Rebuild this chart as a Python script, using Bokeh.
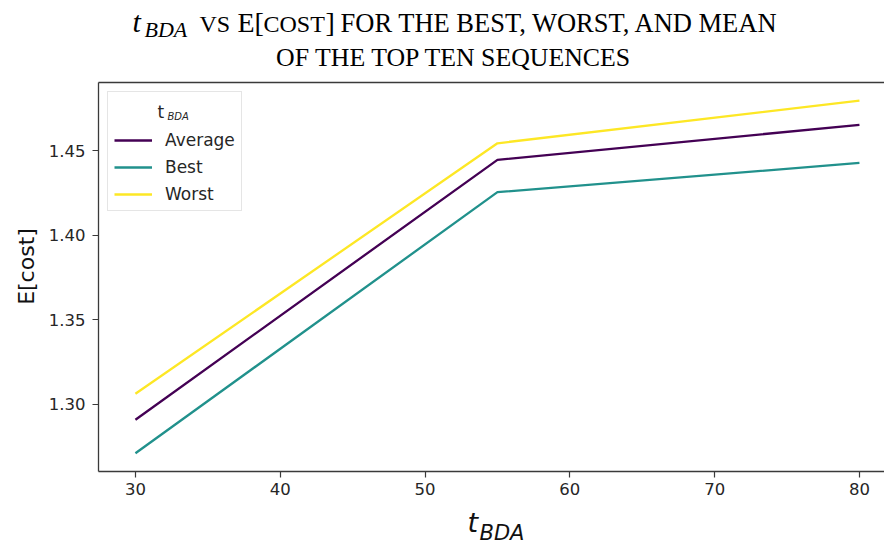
from bokeh.plotting import figure
from bokeh.models import (Range1d, FixedTicker, PrintfTickFormatter, Legend,
                          LegendItem, LinearAxis)
from bokeh.layouts import column
from bokeh.core.properties import value
from bokeh.embed import file_html
from bokeh.resources import INLINE

# ---------------- data ----------------
t_bda = [30, 55, 80]
average = [1.2910, 1.4445, 1.4652]
best = [1.2712, 1.4254, 1.4427]
worst = [1.3063, 1.4543, 1.4795]
series_names = ["Average", "Best", "Worst"]
x_ticks = [30, 40, 50, 60, 70, 80]
y_ticks = [1.30, 1.35, 1.40, 1.45]

COLORS = ["#440154", "#21918c", "#fde725"]
AX = "#3a3a3a"
TXT = "#262626"

W = 884
LEFT = 98
TITLE_H = 76
XLAB_H = 42
MAIN_H = 548 - TITLE_H - XLAB_H
X0, X1 = 27.45, 81.73
Y0, Y1 = 1.2604, 1.4902
BASE_SHIFT = 0.4   # text y anchor correction (fraction of font size)


def strip(h):
    f = figure(width=W, height=h, output_backend="svg", toolbar_location=None,
               x_range=Range1d(LEFT, W), y_range=Range1d(h, 0),
               min_border_left=LEFT, min_border_right=0,
               min_border_top=0, min_border_bottom=0)
    f.axis.visible = False
    f.grid.visible = False
    f.outline_line_color = None
    f.background_fill_color = "white"
    f.border_fill_color = "white"
    return f


def put(f, text, x, y, size, font, style="normal", color="#000000"):
    # y is the wanted baseline (in the figure's own y units, pixel sized)
    f.text(x=[x], y=[y - BASE_SHIFT * size], text=[text],
           text_font=value(font), text_font_size=f"{size}px",
           text_font_style=style, text_color=color,
           text_baseline="alphabetic", text_align="left")


# ---------------- main plot ----------------
p = figure(width=W, height=MAIN_H, output_backend="svg", toolbar_location=None,
           x_range=Range1d(X0, X1), y_range=Range1d(Y0, Y1),
           min_border_left=LEFT, min_border_right=0, min_border_top=6,
           min_border_bottom=MAIN_H - 6 - 389)
p.outline_line_color = None
p.grid.visible = False
p.background_fill_color = "white"
p.border_fill_color = "white"

for ax in (p.xaxis[0], p.yaxis[0]):
    ax.axis_line_color = AX
    ax.axis_line_width = 1.3
    ax.major_tick_line_color = AX
    ax.major_tick_line_width = 1.2
    ax.major_tick_out = 6
    ax.major_tick_in = 0
    ax.minor_tick_line_color = None
    ax.major_label_text_font = "DejaVu Sans"
    ax.major_label_text_font_size = "16.5px"
    ax.major_label_text_color = TXT

p.xaxis.ticker = FixedTicker(ticks=x_ticks)
p.yaxis.ticker = FixedTicker(ticks=y_ticks)
p.yaxis.formatter = PrintfTickFormatter(format="%.2f")
p.xaxis.major_label_standoff = 5
p.yaxis.major_label_standoff = 7

# leading no-break spaces nudge the label up, as in the reference
p.yaxis.axis_label = "\u00a0\u00a0\u00a0E[cost]"
p.yaxis.axis_label_text_font = "DejaVu Sans"
p.yaxis.axis_label_text_font_size = "22px"
p.yaxis.axis_label_text_font_style = "normal"
p.yaxis.axis_label_text_color = "#111111"
p.yaxis.axis_label_standoff = 7

top = LinearAxis(ticker=FixedTicker(ticks=[]), axis_line_color=AX,
                 axis_line_width=1.3, major_tick_line_color=None,
                 minor_tick_line_color=None)
p.add_layout(top, "above")

renderers = []
for name, ys, c in zip(series_names, [average, best, worst], COLORS):
    r = p.line(t_bda, ys, line_color=c, line_width=2.3, line_join="round")
    renderers.append(r)

legend = Legend(items=[LegendItem(label=n, renderers=[r]) for n, r in zip(series_names, renderers)],
                location="top_left", title=" ",
                title_text_font_size="16px", title_standoff=14,
                label_text_font="DejaVu Sans", label_text_font_size="17px",
                label_text_color=TXT,
                glyph_width=38, glyph_height=20, label_height=20,
                label_standoff=13, spacing=7, padding=6, margin=9,
                border_line_color="#cccccc", border_line_width=1,
                background_fill_alpha=0)
p.add_layout(legend)

# legend title  t_BDA  (glyph text, visible through the transparent legend)
PX_X = (X1 - X0) / (W - LEFT)
PX_Y = (Y1 - Y0) / 389.0
FRAME_TOP = 82


def to_data(cx, cy):
    return X0 + (cx - LEFT) * PX_X, Y1 - (cy - FRAME_TOP) * PX_Y


def put_main(text, cx, cy, size, font, style="normal", color="#000000"):
    dx, dy = to_data(cx, cy - BASE_SHIFT * size)
    p.text(x=[dx], y=[dy], text=[text], text_font=value(font),
           text_font_size=f"{size}px", text_font_style=style,
           text_color=color, text_baseline="alphabetic", text_align="left")


put_main("t", 157, 118, 17, "DejaVu Sans", color=TXT)
put_main("BDA", 167, 120, 10, "DejaVu Sans", "italic", TXT)

# ---------------- title strip (serif small caps) ----------------
tf = strip(TITLE_H)
SERIF = "Liberation Serif"
L_SIZE, SC_SIZE, SUB_SIZE = 28, 26.5, 22
title_line1 = [  # text, start x, font size, style, baseline offset
    ("t", 132, 30, "italic", 0),
    ("BDA", 144, SUB_SIZE, "italic", 5),
    ("VS", 199, 24, "normal", 0),
    ("E[", 237, L_SIZE, "normal", 0),
    ("COST", 263, 24, "normal", 0),
    ("]", 325, L_SIZE, "normal", 0),
    ("FOR THE BEST, WORST, AND MEAN", 340, SC_SIZE, "normal", 0),
]
for t, x, s, st, d in title_line1:
    put(tf, t, x, 33 + d, s, SERIF, st)

TIMES = {" ": 250, "C": 667, "E": 611, "F": 556, "H": 722, "N": 722, "O": 722,
         "P": 556, "Q": 722, "S": 556, "T": 611, "U": 722}
line2 = "OF THE TOP TEN SEQUENCES"
S2 = 25.8
w2 = sum(TIMES[c] for c in line2) * S2 / 1000.0
put(tf, line2, 454 - w2 / 2, 67, S2, SERIF)

# ---------------- x label strip ----------------
xf = strip(XLAB_H)
base = TITLE_H + MAIN_H
put(xf, "t", 467, 533 - base, 27, "DejaVu Sans", "italic", "#111111")
put(xf, "BDA", 479, 541 - base, 21, "DejaVu Sans", "italic", "#111111")

layout = column(tf, p, xf, spacing=0)
open("out.html", "w").write(file_html(layout, INLINE))
